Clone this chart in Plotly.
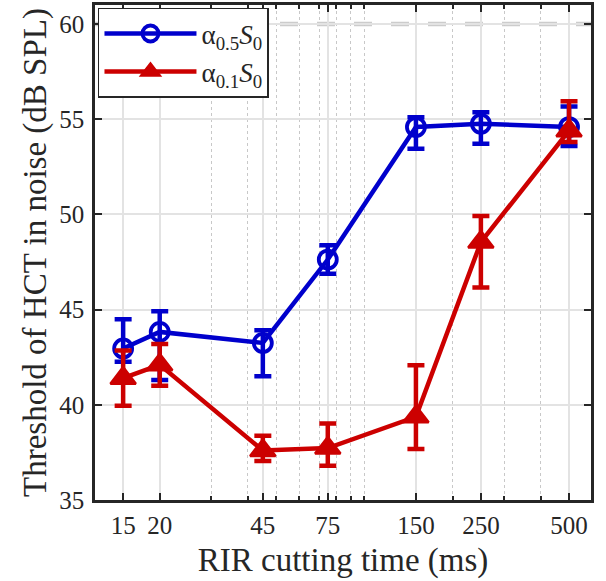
import plotly.graph_objects as go

# ---- data ----
cut_ms = [15, 20, 45, 75, 150, 250, 500]

blue_name = "α<sub>0.5</sub><i>S</i><sub>0</sub>"
blue_val = [42.96, 43.83, 43.25, 47.63, 54.59, 54.76, 54.59]
blue_hi = [44.50, 44.92, 43.92, 48.38, 55.10, 55.37, 55.67]
blue_lo = [42.26, 41.30, 41.50, 46.89, 53.45, 53.71, 53.60]

red_name = "α<sub>0.1</sub><i>S</i><sub>0</sub>"
red_val = [41.40, 42.10, 37.60, 37.73, 39.37, 48.55, 54.40]
red_hi = [42.85, 43.20, 38.37, 39.02, 42.08, 49.92, 55.95]
red_lo = [39.95, 41.00, 37.05, 36.80, 37.68, 46.16, 53.80]

x_ticks = [15, 20, 45, 75, 150, 250, 500]
x_tick_labels = ["15", "20", "45", "75", "150", "250", "500"]
x_minor = [20, 30, 40, 50, 60, 70, 80, 90, 100, 200, 300, 400, 500]
y_ticks = [35, 40, 45, 50, 55, 60]
ref_level = 60

BLUE = "#0000CC"
RED = "#CC0000"
FONT = "Liberation Serif"
AX = "#262626"

fig = go.Figure()


def add_series(vals, hi, lo, name, color, symbol, size, fill, lw):
    plus = [h - v for h, v in zip(hi, vals)]
    minus = [v - l for l, v in zip(lo, vals)]
    fig.add_trace(go.Scatter(
        x=cut_ms, y=vals, name=name, mode="lines+markers",
        line=dict(color=color, width=4.5),
        marker=dict(symbol=symbol, size=size, color=fill,
                    line=dict(color=color, width=lw)),
        error_y=dict(type="data", symmetric=False, array=plus, arrayminus=minus,
                     color=color, thickness=4.5, width=8.5),
    ))


add_series(blue_val, blue_hi, blue_lo, blue_name, BLUE, "circle", 18, "rgba(0,0,0,0)", 3.8)
add_series(red_val, red_hi, red_lo, red_name, RED, "triangle-up", 22, RED, 2.5)

fig.add_hline(y=ref_level, line=dict(color="#cccccc", width=4.5, dash="18px,19px"), layer="below")

fig.update_layout(
    width=606, height=581,
    margin=dict(l=95, r=15, t=5, b=81),
    paper_bgcolor="white", plot_bgcolor="white",
    font=dict(family=FONT, size=25, color=AX),
    showlegend=True,
    legend=dict(x=0.006, y=0.994, xanchor="left", yanchor="top",
                bordercolor=AX, borderwidth=1.5, bgcolor="white",
                font=dict(family=FONT, size=27, color=AX),
                itemwidth=92, tracegroupgap=0),
)

fig.update_xaxes(
    type="log", range=[1.080, 2.774], automargin=False,
    tickmode="array", tickvals=x_ticks, ticktext=x_tick_labels,
    ticks="inside", ticklen=7, tickwidth=2, tickcolor=AX,
    showline=True, linecolor=AX, linewidth=2.5, mirror="allticks",
    showgrid=True, gridcolor="#e3e3e3", gridwidth=1.5,
    minor=dict(tickmode="array", tickvals=x_minor, ticks="inside", ticklen=4,
               tickwidth=1.5, tickcolor=AX, showgrid=True, gridcolor="#c8c8c8",
               griddash="dot", gridwidth=1),
    title=dict(text="RIR cutting time (ms)", font=dict(size=33), standoff=11),
    tickfont=dict(size=25), ticklabelstandoff=1,
)
fig.update_yaxes(
    range=[35, 61], automargin=False, tickmode="array", tickvals=y_ticks,
    ticks="inside", ticklen=7, tickwidth=2, tickcolor=AX,
    showline=True, linecolor=AX, linewidth=2.5, mirror="allticks",
    showgrid=True, gridcolor="#e3e3e3", gridwidth=1.5, zeroline=False,
    title=dict(text="Threshold of HCT in noise (dB SPL)", font=dict(size=33), standoff=3),
    tickfont=dict(size=25), ticklabelstandoff=3,
)

fig.write_html("out.html", post_script="document.body.style.margin='0';",
               config={"displayModeBar": False})
